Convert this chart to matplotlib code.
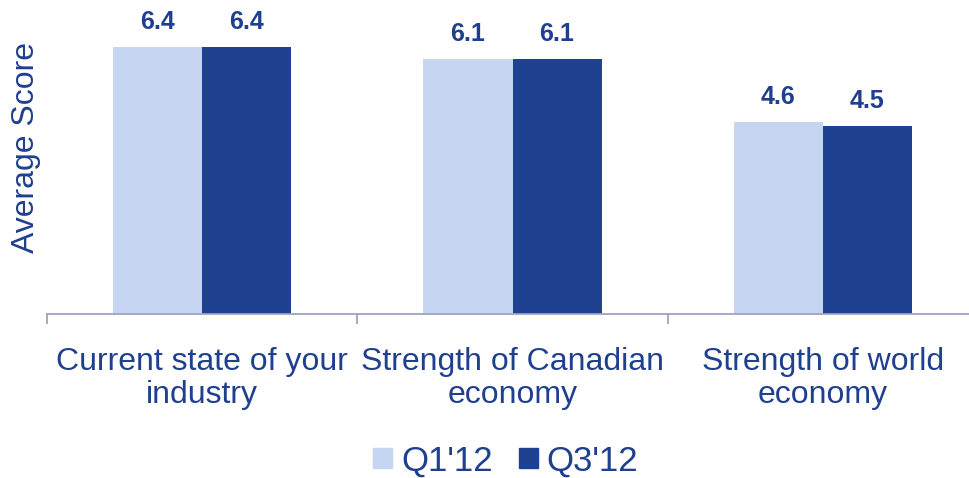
import numpy as np
import matplotlib.pyplot as plt
from matplotlib.patches import Patch

plt.rcParams['font.family'] = ['Liberation Sans', 'DejaVu Sans']

categories = ['Current state of your\nindustry', 'Strength of Canadian\neconomy', 'Strength of world\neconomy']
series = ["Q1'12", "Q3'12"]
q1 = [6.4, 6.1, 4.6]
q3 = [6.4, 6.1, 4.5]

light = '#C6D5F1'
dark = '#1F4192'
text_col = '#1F3F8F'
axis_col = '#A0A4C2'

fig = plt.figure(figsize=(9.69, 4.78), dpi=100)
ax = fig.add_axes([0.0485, 0.3431, 0.9608, 0.612])

x = np.arange(len(categories))
w = 0.287
b1 = ax.bar(x - w / 2, q1, w, color=light)
b2 = ax.bar(x + w / 2, q3, w, color=dark)

for bars, vals in ((b1, q1), (b2, q3)):
    for r, v in zip(bars, vals):
        ax.text(r.get_x() + r.get_width() / 2, v + 0.31, f'{v:.1f}', ha='center', va='bottom',
                fontsize=18, fontweight='bold', color=text_col, clip_on=False)

ax.set_xlim(-0.5, 2.5)
ax.set_ylim(0, 7)
ax.set_xticks(x)
ax.set_xticklabels(categories, fontsize=23, color=text_col, linespacing=1.12)
ax.tick_params(axis='x', which='major', length=0, pad=24)
ax.set_xticks([-0.5, 0.5, 1.5, 2.5], minor=True)
ax.tick_params(axis='x', which='minor', length=7, width=1.3, color=axis_col, direction='out')
ax.set_yticks([])
for s in ('top', 'right', 'left'):
    ax.spines[s].set_visible(False)
ax.spines['bottom'].set_color(axis_col)
ax.spines['bottom'].set_linewidth(1.3)

fig.text(0.027, 0.692, 'Average Score', rotation=90, ha='center', va='center',
         fontsize=23, color=text_col)

handles = [Patch(color=light), Patch(color=dark)]
leg = fig.legend(handles, series, loc='center', bbox_to_anchor=(0.522, 0.036), ncol=2,
                 frameon=False, fontsize=25, handlelength=0.55, handleheight=0.55,
                 handletextpad=0.25, columnspacing=0.75, borderpad=0.1)
for t in leg.get_texts():
    t.set_color(text_col)

fig.savefig('out.png', dpi=100)
